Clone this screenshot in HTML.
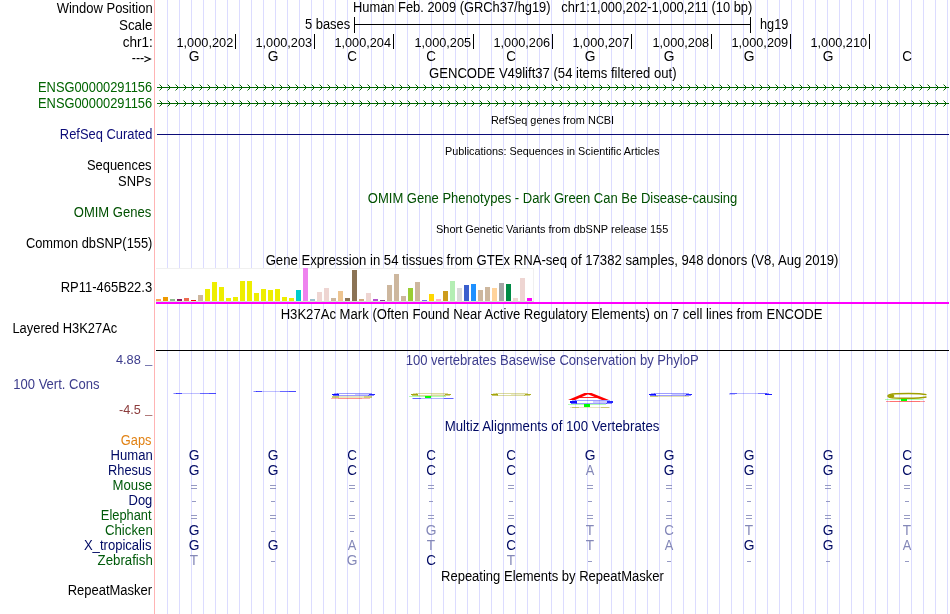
<!DOCTYPE html>
<html><head><meta charset="utf-8"><title>UCSC Genome Browser</title>
<style>
html,body{margin:0;padding:0;background:#fff;}
body{width:950px;height:614px;overflow:hidden;}
svg{display:block;font-family:"Liberation Sans",sans-serif;will-change:transform;}
text{white-space:pre;}
</style></head><body>
<svg width="950" height="614" viewBox="0 0 950 614">
<rect width="950" height="614" fill="#fff"/>
<path d="M167.5 0V614M179.5 0V614M191.5 0V614M203.5 0V614M215.5 0V614M227.5 0V614M239.5 0V614M251.5 0V614M263.5 0V614M275.5 0V614M287.5 0V614M299.5 0V614M311.5 0V614M323.5 0V614M335.5 0V614M347.5 0V614M359.5 0V614M371.5 0V614M383.5 0V614M395.5 0V614M407.5 0V614M419.5 0V614M431.5 0V614M443.5 0V614M455.5 0V614M467.5 0V614M479.5 0V614M491.5 0V614M503.5 0V614M515.5 0V614M527.5 0V614M539.5 0V614M551.5 0V614M563.5 0V614M575.5 0V614M587.5 0V614M599.5 0V614M611.5 0V614M623.5 0V614M635.5 0V614M647.5 0V614M659.5 0V614M671.5 0V614M683.5 0V614M695.5 0V614M707.5 0V614M719.5 0V614M731.5 0V614M743.5 0V614M755.5 0V614M767.5 0V614M779.5 0V614M791.5 0V614M803.5 0V614M815.5 0V614M827.5 0V614M839.5 0V614M851.5 0V614M863.5 0V614M875.5 0V614M887.5 0V614M899.5 0V614M911.5 0V614M923.5 0V614M935.5 0V614M947.5 0V614" stroke="#dcdcff" stroke-width="1" fill="none"/>
<path d="M154.5 0V614" stroke="#ffb4b4" stroke-width="1" fill="none"/>
<path d="M354.5 17V33M750.5 17V33M354 24.5H751" stroke="#000" stroke-width="1" fill="none"/>
<path d="M144.4 56.4L150.4 59.1L144.4 61.8" fill="none" stroke="#000" stroke-width="1.15"/>
<rect x="235" y="34" width="1" height="15" fill="#000"/>
<rect x="314" y="34" width="1" height="15" fill="#000"/>
<rect x="393" y="34" width="1" height="15" fill="#000"/>
<rect x="473" y="34" width="1" height="15" fill="#000"/>
<rect x="552" y="34" width="1" height="15" fill="#000"/>
<rect x="631" y="34" width="1" height="15" fill="#000"/>
<rect x="711" y="34" width="1" height="15" fill="#000"/>
<rect x="790" y="34" width="1" height="15" fill="#000"/>
<rect x="869" y="34" width="1" height="15" fill="#000"/>
<path d="M157 87.5H949" stroke="#006400" stroke-width="1" fill="none"/>
<path d="M161 86h1v1h-1zM161 88h1v1h-1zM160 85h1v1h-1zM160 89h1v1h-1zM169 86h1v1h-1zM169 88h1v1h-1zM168 85h1v1h-1zM168 89h1v1h-1zM177 86h1v1h-1zM177 88h1v1h-1zM176 85h1v1h-1zM176 89h1v1h-1zM185 86h1v1h-1zM185 88h1v1h-1zM184 85h1v1h-1zM184 89h1v1h-1zM193 86h1v1h-1zM193 88h1v1h-1zM192 85h1v1h-1zM192 89h1v1h-1zM201 86h1v1h-1zM201 88h1v1h-1zM200 85h1v1h-1zM200 89h1v1h-1zM209 86h1v1h-1zM209 88h1v1h-1zM208 85h1v1h-1zM208 89h1v1h-1zM217 86h1v1h-1zM217 88h1v1h-1zM216 85h1v1h-1zM216 89h1v1h-1zM225 86h1v1h-1zM225 88h1v1h-1zM224 85h1v1h-1zM224 89h1v1h-1zM233 86h1v1h-1zM233 88h1v1h-1zM232 85h1v1h-1zM232 89h1v1h-1zM241 86h1v1h-1zM241 88h1v1h-1zM240 85h1v1h-1zM240 89h1v1h-1zM249 86h1v1h-1zM249 88h1v1h-1zM248 85h1v1h-1zM248 89h1v1h-1zM257 86h1v1h-1zM257 88h1v1h-1zM256 85h1v1h-1zM256 89h1v1h-1zM265 86h1v1h-1zM265 88h1v1h-1zM264 85h1v1h-1zM264 89h1v1h-1zM273 86h1v1h-1zM273 88h1v1h-1zM272 85h1v1h-1zM272 89h1v1h-1zM281 86h1v1h-1zM281 88h1v1h-1zM280 85h1v1h-1zM280 89h1v1h-1zM289 86h1v1h-1zM289 88h1v1h-1zM288 85h1v1h-1zM288 89h1v1h-1zM297 86h1v1h-1zM297 88h1v1h-1zM296 85h1v1h-1zM296 89h1v1h-1zM305 86h1v1h-1zM305 88h1v1h-1zM304 85h1v1h-1zM304 89h1v1h-1zM313 86h1v1h-1zM313 88h1v1h-1zM312 85h1v1h-1zM312 89h1v1h-1zM321 86h1v1h-1zM321 88h1v1h-1zM320 85h1v1h-1zM320 89h1v1h-1zM329 86h1v1h-1zM329 88h1v1h-1zM328 85h1v1h-1zM328 89h1v1h-1zM337 86h1v1h-1zM337 88h1v1h-1zM336 85h1v1h-1zM336 89h1v1h-1zM345 86h1v1h-1zM345 88h1v1h-1zM344 85h1v1h-1zM344 89h1v1h-1zM353 86h1v1h-1zM353 88h1v1h-1zM352 85h1v1h-1zM352 89h1v1h-1zM361 86h1v1h-1zM361 88h1v1h-1zM360 85h1v1h-1zM360 89h1v1h-1zM369 86h1v1h-1zM369 88h1v1h-1zM368 85h1v1h-1zM368 89h1v1h-1zM377 86h1v1h-1zM377 88h1v1h-1zM376 85h1v1h-1zM376 89h1v1h-1zM385 86h1v1h-1zM385 88h1v1h-1zM384 85h1v1h-1zM384 89h1v1h-1zM393 86h1v1h-1zM393 88h1v1h-1zM392 85h1v1h-1zM392 89h1v1h-1zM401 86h1v1h-1zM401 88h1v1h-1zM400 85h1v1h-1zM400 89h1v1h-1zM409 86h1v1h-1zM409 88h1v1h-1zM408 85h1v1h-1zM408 89h1v1h-1zM417 86h1v1h-1zM417 88h1v1h-1zM416 85h1v1h-1zM416 89h1v1h-1zM425 86h1v1h-1zM425 88h1v1h-1zM424 85h1v1h-1zM424 89h1v1h-1zM433 86h1v1h-1zM433 88h1v1h-1zM432 85h1v1h-1zM432 89h1v1h-1zM441 86h1v1h-1zM441 88h1v1h-1zM440 85h1v1h-1zM440 89h1v1h-1zM449 86h1v1h-1zM449 88h1v1h-1zM448 85h1v1h-1zM448 89h1v1h-1zM457 86h1v1h-1zM457 88h1v1h-1zM456 85h1v1h-1zM456 89h1v1h-1zM465 86h1v1h-1zM465 88h1v1h-1zM464 85h1v1h-1zM464 89h1v1h-1zM473 86h1v1h-1zM473 88h1v1h-1zM472 85h1v1h-1zM472 89h1v1h-1zM481 86h1v1h-1zM481 88h1v1h-1zM480 85h1v1h-1zM480 89h1v1h-1zM489 86h1v1h-1zM489 88h1v1h-1zM488 85h1v1h-1zM488 89h1v1h-1zM497 86h1v1h-1zM497 88h1v1h-1zM496 85h1v1h-1zM496 89h1v1h-1zM505 86h1v1h-1zM505 88h1v1h-1zM504 85h1v1h-1zM504 89h1v1h-1zM513 86h1v1h-1zM513 88h1v1h-1zM512 85h1v1h-1zM512 89h1v1h-1zM521 86h1v1h-1zM521 88h1v1h-1zM520 85h1v1h-1zM520 89h1v1h-1zM529 86h1v1h-1zM529 88h1v1h-1zM528 85h1v1h-1zM528 89h1v1h-1zM537 86h1v1h-1zM537 88h1v1h-1zM536 85h1v1h-1zM536 89h1v1h-1zM545 86h1v1h-1zM545 88h1v1h-1zM544 85h1v1h-1zM544 89h1v1h-1zM553 86h1v1h-1zM553 88h1v1h-1zM552 85h1v1h-1zM552 89h1v1h-1zM561 86h1v1h-1zM561 88h1v1h-1zM560 85h1v1h-1zM560 89h1v1h-1zM569 86h1v1h-1zM569 88h1v1h-1zM568 85h1v1h-1zM568 89h1v1h-1zM577 86h1v1h-1zM577 88h1v1h-1zM576 85h1v1h-1zM576 89h1v1h-1zM585 86h1v1h-1zM585 88h1v1h-1zM584 85h1v1h-1zM584 89h1v1h-1zM593 86h1v1h-1zM593 88h1v1h-1zM592 85h1v1h-1zM592 89h1v1h-1zM601 86h1v1h-1zM601 88h1v1h-1zM600 85h1v1h-1zM600 89h1v1h-1zM609 86h1v1h-1zM609 88h1v1h-1zM608 85h1v1h-1zM608 89h1v1h-1zM617 86h1v1h-1zM617 88h1v1h-1zM616 85h1v1h-1zM616 89h1v1h-1zM625 86h1v1h-1zM625 88h1v1h-1zM624 85h1v1h-1zM624 89h1v1h-1zM633 86h1v1h-1zM633 88h1v1h-1zM632 85h1v1h-1zM632 89h1v1h-1zM641 86h1v1h-1zM641 88h1v1h-1zM640 85h1v1h-1zM640 89h1v1h-1zM649 86h1v1h-1zM649 88h1v1h-1zM648 85h1v1h-1zM648 89h1v1h-1zM657 86h1v1h-1zM657 88h1v1h-1zM656 85h1v1h-1zM656 89h1v1h-1zM665 86h1v1h-1zM665 88h1v1h-1zM664 85h1v1h-1zM664 89h1v1h-1zM673 86h1v1h-1zM673 88h1v1h-1zM672 85h1v1h-1zM672 89h1v1h-1zM681 86h1v1h-1zM681 88h1v1h-1zM680 85h1v1h-1zM680 89h1v1h-1zM689 86h1v1h-1zM689 88h1v1h-1zM688 85h1v1h-1zM688 89h1v1h-1zM697 86h1v1h-1zM697 88h1v1h-1zM696 85h1v1h-1zM696 89h1v1h-1zM705 86h1v1h-1zM705 88h1v1h-1zM704 85h1v1h-1zM704 89h1v1h-1zM713 86h1v1h-1zM713 88h1v1h-1zM712 85h1v1h-1zM712 89h1v1h-1zM721 86h1v1h-1zM721 88h1v1h-1zM720 85h1v1h-1zM720 89h1v1h-1zM729 86h1v1h-1zM729 88h1v1h-1zM728 85h1v1h-1zM728 89h1v1h-1zM737 86h1v1h-1zM737 88h1v1h-1zM736 85h1v1h-1zM736 89h1v1h-1zM745 86h1v1h-1zM745 88h1v1h-1zM744 85h1v1h-1zM744 89h1v1h-1zM753 86h1v1h-1zM753 88h1v1h-1zM752 85h1v1h-1zM752 89h1v1h-1zM761 86h1v1h-1zM761 88h1v1h-1zM760 85h1v1h-1zM760 89h1v1h-1zM769 86h1v1h-1zM769 88h1v1h-1zM768 85h1v1h-1zM768 89h1v1h-1zM777 86h1v1h-1zM777 88h1v1h-1zM776 85h1v1h-1zM776 89h1v1h-1zM785 86h1v1h-1zM785 88h1v1h-1zM784 85h1v1h-1zM784 89h1v1h-1zM793 86h1v1h-1zM793 88h1v1h-1zM792 85h1v1h-1zM792 89h1v1h-1zM801 86h1v1h-1zM801 88h1v1h-1zM800 85h1v1h-1zM800 89h1v1h-1zM809 86h1v1h-1zM809 88h1v1h-1zM808 85h1v1h-1zM808 89h1v1h-1zM817 86h1v1h-1zM817 88h1v1h-1zM816 85h1v1h-1zM816 89h1v1h-1zM825 86h1v1h-1zM825 88h1v1h-1zM824 85h1v1h-1zM824 89h1v1h-1zM833 86h1v1h-1zM833 88h1v1h-1zM832 85h1v1h-1zM832 89h1v1h-1zM841 86h1v1h-1zM841 88h1v1h-1zM840 85h1v1h-1zM840 89h1v1h-1zM849 86h1v1h-1zM849 88h1v1h-1zM848 85h1v1h-1zM848 89h1v1h-1zM857 86h1v1h-1zM857 88h1v1h-1zM856 85h1v1h-1zM856 89h1v1h-1zM865 86h1v1h-1zM865 88h1v1h-1zM864 85h1v1h-1zM864 89h1v1h-1zM873 86h1v1h-1zM873 88h1v1h-1zM872 85h1v1h-1zM872 89h1v1h-1zM881 86h1v1h-1zM881 88h1v1h-1zM880 85h1v1h-1zM880 89h1v1h-1zM889 86h1v1h-1zM889 88h1v1h-1zM888 85h1v1h-1zM888 89h1v1h-1zM897 86h1v1h-1zM897 88h1v1h-1zM896 85h1v1h-1zM896 89h1v1h-1zM905 86h1v1h-1zM905 88h1v1h-1zM904 85h1v1h-1zM904 89h1v1h-1zM913 86h1v1h-1zM913 88h1v1h-1zM912 85h1v1h-1zM912 89h1v1h-1zM921 86h1v1h-1zM921 88h1v1h-1zM920 85h1v1h-1zM920 89h1v1h-1zM929 86h1v1h-1zM929 88h1v1h-1zM928 85h1v1h-1zM928 89h1v1h-1zM937 86h1v1h-1zM937 88h1v1h-1zM936 85h1v1h-1zM936 89h1v1h-1zM945 86h1v1h-1zM945 88h1v1h-1zM944 85h1v1h-1zM944 89h1v1h-1z" fill="#006400"/>
<path d="M159 84h1v1h-1zM159 90h1v1h-1zM167 84h1v1h-1zM167 90h1v1h-1zM175 84h1v1h-1zM175 90h1v1h-1zM183 84h1v1h-1zM183 90h1v1h-1zM191 84h1v1h-1zM191 90h1v1h-1zM199 84h1v1h-1zM199 90h1v1h-1zM207 84h1v1h-1zM207 90h1v1h-1zM215 84h1v1h-1zM215 90h1v1h-1zM223 84h1v1h-1zM223 90h1v1h-1zM231 84h1v1h-1zM231 90h1v1h-1zM239 84h1v1h-1zM239 90h1v1h-1zM247 84h1v1h-1zM247 90h1v1h-1zM255 84h1v1h-1zM255 90h1v1h-1zM263 84h1v1h-1zM263 90h1v1h-1zM271 84h1v1h-1zM271 90h1v1h-1zM279 84h1v1h-1zM279 90h1v1h-1zM287 84h1v1h-1zM287 90h1v1h-1zM295 84h1v1h-1zM295 90h1v1h-1zM303 84h1v1h-1zM303 90h1v1h-1zM311 84h1v1h-1zM311 90h1v1h-1zM319 84h1v1h-1zM319 90h1v1h-1zM327 84h1v1h-1zM327 90h1v1h-1zM335 84h1v1h-1zM335 90h1v1h-1zM343 84h1v1h-1zM343 90h1v1h-1zM351 84h1v1h-1zM351 90h1v1h-1zM359 84h1v1h-1zM359 90h1v1h-1zM367 84h1v1h-1zM367 90h1v1h-1zM375 84h1v1h-1zM375 90h1v1h-1zM383 84h1v1h-1zM383 90h1v1h-1zM391 84h1v1h-1zM391 90h1v1h-1zM399 84h1v1h-1zM399 90h1v1h-1zM407 84h1v1h-1zM407 90h1v1h-1zM415 84h1v1h-1zM415 90h1v1h-1zM423 84h1v1h-1zM423 90h1v1h-1zM431 84h1v1h-1zM431 90h1v1h-1zM439 84h1v1h-1zM439 90h1v1h-1zM447 84h1v1h-1zM447 90h1v1h-1zM455 84h1v1h-1zM455 90h1v1h-1zM463 84h1v1h-1zM463 90h1v1h-1zM471 84h1v1h-1zM471 90h1v1h-1zM479 84h1v1h-1zM479 90h1v1h-1zM487 84h1v1h-1zM487 90h1v1h-1zM495 84h1v1h-1zM495 90h1v1h-1zM503 84h1v1h-1zM503 90h1v1h-1zM511 84h1v1h-1zM511 90h1v1h-1zM519 84h1v1h-1zM519 90h1v1h-1zM527 84h1v1h-1zM527 90h1v1h-1zM535 84h1v1h-1zM535 90h1v1h-1zM543 84h1v1h-1zM543 90h1v1h-1zM551 84h1v1h-1zM551 90h1v1h-1zM559 84h1v1h-1zM559 90h1v1h-1zM567 84h1v1h-1zM567 90h1v1h-1zM575 84h1v1h-1zM575 90h1v1h-1zM583 84h1v1h-1zM583 90h1v1h-1zM591 84h1v1h-1zM591 90h1v1h-1zM599 84h1v1h-1zM599 90h1v1h-1zM607 84h1v1h-1zM607 90h1v1h-1zM615 84h1v1h-1zM615 90h1v1h-1zM623 84h1v1h-1zM623 90h1v1h-1zM631 84h1v1h-1zM631 90h1v1h-1zM639 84h1v1h-1zM639 90h1v1h-1zM647 84h1v1h-1zM647 90h1v1h-1zM655 84h1v1h-1zM655 90h1v1h-1zM663 84h1v1h-1zM663 90h1v1h-1zM671 84h1v1h-1zM671 90h1v1h-1zM679 84h1v1h-1zM679 90h1v1h-1zM687 84h1v1h-1zM687 90h1v1h-1zM695 84h1v1h-1zM695 90h1v1h-1zM703 84h1v1h-1zM703 90h1v1h-1zM711 84h1v1h-1zM711 90h1v1h-1zM719 84h1v1h-1zM719 90h1v1h-1zM727 84h1v1h-1zM727 90h1v1h-1zM735 84h1v1h-1zM735 90h1v1h-1zM743 84h1v1h-1zM743 90h1v1h-1zM751 84h1v1h-1zM751 90h1v1h-1zM759 84h1v1h-1zM759 90h1v1h-1zM767 84h1v1h-1zM767 90h1v1h-1zM775 84h1v1h-1zM775 90h1v1h-1zM783 84h1v1h-1zM783 90h1v1h-1zM791 84h1v1h-1zM791 90h1v1h-1zM799 84h1v1h-1zM799 90h1v1h-1zM807 84h1v1h-1zM807 90h1v1h-1zM815 84h1v1h-1zM815 90h1v1h-1zM823 84h1v1h-1zM823 90h1v1h-1zM831 84h1v1h-1zM831 90h1v1h-1zM839 84h1v1h-1zM839 90h1v1h-1zM847 84h1v1h-1zM847 90h1v1h-1zM855 84h1v1h-1zM855 90h1v1h-1zM863 84h1v1h-1zM863 90h1v1h-1zM871 84h1v1h-1zM871 90h1v1h-1zM879 84h1v1h-1zM879 90h1v1h-1zM887 84h1v1h-1zM887 90h1v1h-1zM895 84h1v1h-1zM895 90h1v1h-1zM903 84h1v1h-1zM903 90h1v1h-1zM911 84h1v1h-1zM911 90h1v1h-1zM919 84h1v1h-1zM919 90h1v1h-1zM927 84h1v1h-1zM927 90h1v1h-1zM935 84h1v1h-1zM935 90h1v1h-1zM943 84h1v1h-1zM943 90h1v1h-1z" fill="#006400" fill-opacity="0.45"/>
<path d="M157 103.5H949" stroke="#006400" stroke-width="1" fill="none"/>
<path d="M161 102h1v1h-1zM161 104h1v1h-1zM160 101h1v1h-1zM160 105h1v1h-1zM169 102h1v1h-1zM169 104h1v1h-1zM168 101h1v1h-1zM168 105h1v1h-1zM177 102h1v1h-1zM177 104h1v1h-1zM176 101h1v1h-1zM176 105h1v1h-1zM185 102h1v1h-1zM185 104h1v1h-1zM184 101h1v1h-1zM184 105h1v1h-1zM193 102h1v1h-1zM193 104h1v1h-1zM192 101h1v1h-1zM192 105h1v1h-1zM201 102h1v1h-1zM201 104h1v1h-1zM200 101h1v1h-1zM200 105h1v1h-1zM209 102h1v1h-1zM209 104h1v1h-1zM208 101h1v1h-1zM208 105h1v1h-1zM217 102h1v1h-1zM217 104h1v1h-1zM216 101h1v1h-1zM216 105h1v1h-1zM225 102h1v1h-1zM225 104h1v1h-1zM224 101h1v1h-1zM224 105h1v1h-1zM233 102h1v1h-1zM233 104h1v1h-1zM232 101h1v1h-1zM232 105h1v1h-1zM241 102h1v1h-1zM241 104h1v1h-1zM240 101h1v1h-1zM240 105h1v1h-1zM249 102h1v1h-1zM249 104h1v1h-1zM248 101h1v1h-1zM248 105h1v1h-1zM257 102h1v1h-1zM257 104h1v1h-1zM256 101h1v1h-1zM256 105h1v1h-1zM265 102h1v1h-1zM265 104h1v1h-1zM264 101h1v1h-1zM264 105h1v1h-1zM273 102h1v1h-1zM273 104h1v1h-1zM272 101h1v1h-1zM272 105h1v1h-1zM281 102h1v1h-1zM281 104h1v1h-1zM280 101h1v1h-1zM280 105h1v1h-1zM289 102h1v1h-1zM289 104h1v1h-1zM288 101h1v1h-1zM288 105h1v1h-1zM297 102h1v1h-1zM297 104h1v1h-1zM296 101h1v1h-1zM296 105h1v1h-1zM305 102h1v1h-1zM305 104h1v1h-1zM304 101h1v1h-1zM304 105h1v1h-1zM313 102h1v1h-1zM313 104h1v1h-1zM312 101h1v1h-1zM312 105h1v1h-1zM321 102h1v1h-1zM321 104h1v1h-1zM320 101h1v1h-1zM320 105h1v1h-1zM329 102h1v1h-1zM329 104h1v1h-1zM328 101h1v1h-1zM328 105h1v1h-1zM337 102h1v1h-1zM337 104h1v1h-1zM336 101h1v1h-1zM336 105h1v1h-1zM345 102h1v1h-1zM345 104h1v1h-1zM344 101h1v1h-1zM344 105h1v1h-1zM353 102h1v1h-1zM353 104h1v1h-1zM352 101h1v1h-1zM352 105h1v1h-1zM361 102h1v1h-1zM361 104h1v1h-1zM360 101h1v1h-1zM360 105h1v1h-1zM369 102h1v1h-1zM369 104h1v1h-1zM368 101h1v1h-1zM368 105h1v1h-1zM377 102h1v1h-1zM377 104h1v1h-1zM376 101h1v1h-1zM376 105h1v1h-1zM385 102h1v1h-1zM385 104h1v1h-1zM384 101h1v1h-1zM384 105h1v1h-1zM393 102h1v1h-1zM393 104h1v1h-1zM392 101h1v1h-1zM392 105h1v1h-1zM401 102h1v1h-1zM401 104h1v1h-1zM400 101h1v1h-1zM400 105h1v1h-1zM409 102h1v1h-1zM409 104h1v1h-1zM408 101h1v1h-1zM408 105h1v1h-1zM417 102h1v1h-1zM417 104h1v1h-1zM416 101h1v1h-1zM416 105h1v1h-1zM425 102h1v1h-1zM425 104h1v1h-1zM424 101h1v1h-1zM424 105h1v1h-1zM433 102h1v1h-1zM433 104h1v1h-1zM432 101h1v1h-1zM432 105h1v1h-1zM441 102h1v1h-1zM441 104h1v1h-1zM440 101h1v1h-1zM440 105h1v1h-1zM449 102h1v1h-1zM449 104h1v1h-1zM448 101h1v1h-1zM448 105h1v1h-1zM457 102h1v1h-1zM457 104h1v1h-1zM456 101h1v1h-1zM456 105h1v1h-1zM465 102h1v1h-1zM465 104h1v1h-1zM464 101h1v1h-1zM464 105h1v1h-1zM473 102h1v1h-1zM473 104h1v1h-1zM472 101h1v1h-1zM472 105h1v1h-1zM481 102h1v1h-1zM481 104h1v1h-1zM480 101h1v1h-1zM480 105h1v1h-1zM489 102h1v1h-1zM489 104h1v1h-1zM488 101h1v1h-1zM488 105h1v1h-1zM497 102h1v1h-1zM497 104h1v1h-1zM496 101h1v1h-1zM496 105h1v1h-1zM505 102h1v1h-1zM505 104h1v1h-1zM504 101h1v1h-1zM504 105h1v1h-1zM513 102h1v1h-1zM513 104h1v1h-1zM512 101h1v1h-1zM512 105h1v1h-1zM521 102h1v1h-1zM521 104h1v1h-1zM520 101h1v1h-1zM520 105h1v1h-1zM529 102h1v1h-1zM529 104h1v1h-1zM528 101h1v1h-1zM528 105h1v1h-1zM537 102h1v1h-1zM537 104h1v1h-1zM536 101h1v1h-1zM536 105h1v1h-1zM545 102h1v1h-1zM545 104h1v1h-1zM544 101h1v1h-1zM544 105h1v1h-1zM553 102h1v1h-1zM553 104h1v1h-1zM552 101h1v1h-1zM552 105h1v1h-1zM561 102h1v1h-1zM561 104h1v1h-1zM560 101h1v1h-1zM560 105h1v1h-1zM569 102h1v1h-1zM569 104h1v1h-1zM568 101h1v1h-1zM568 105h1v1h-1zM577 102h1v1h-1zM577 104h1v1h-1zM576 101h1v1h-1zM576 105h1v1h-1zM585 102h1v1h-1zM585 104h1v1h-1zM584 101h1v1h-1zM584 105h1v1h-1zM593 102h1v1h-1zM593 104h1v1h-1zM592 101h1v1h-1zM592 105h1v1h-1zM601 102h1v1h-1zM601 104h1v1h-1zM600 101h1v1h-1zM600 105h1v1h-1zM609 102h1v1h-1zM609 104h1v1h-1zM608 101h1v1h-1zM608 105h1v1h-1zM617 102h1v1h-1zM617 104h1v1h-1zM616 101h1v1h-1zM616 105h1v1h-1zM625 102h1v1h-1zM625 104h1v1h-1zM624 101h1v1h-1zM624 105h1v1h-1zM633 102h1v1h-1zM633 104h1v1h-1zM632 101h1v1h-1zM632 105h1v1h-1zM641 102h1v1h-1zM641 104h1v1h-1zM640 101h1v1h-1zM640 105h1v1h-1zM649 102h1v1h-1zM649 104h1v1h-1zM648 101h1v1h-1zM648 105h1v1h-1zM657 102h1v1h-1zM657 104h1v1h-1zM656 101h1v1h-1zM656 105h1v1h-1zM665 102h1v1h-1zM665 104h1v1h-1zM664 101h1v1h-1zM664 105h1v1h-1zM673 102h1v1h-1zM673 104h1v1h-1zM672 101h1v1h-1zM672 105h1v1h-1zM681 102h1v1h-1zM681 104h1v1h-1zM680 101h1v1h-1zM680 105h1v1h-1zM689 102h1v1h-1zM689 104h1v1h-1zM688 101h1v1h-1zM688 105h1v1h-1zM697 102h1v1h-1zM697 104h1v1h-1zM696 101h1v1h-1zM696 105h1v1h-1zM705 102h1v1h-1zM705 104h1v1h-1zM704 101h1v1h-1zM704 105h1v1h-1zM713 102h1v1h-1zM713 104h1v1h-1zM712 101h1v1h-1zM712 105h1v1h-1zM721 102h1v1h-1zM721 104h1v1h-1zM720 101h1v1h-1zM720 105h1v1h-1zM729 102h1v1h-1zM729 104h1v1h-1zM728 101h1v1h-1zM728 105h1v1h-1zM737 102h1v1h-1zM737 104h1v1h-1zM736 101h1v1h-1zM736 105h1v1h-1zM745 102h1v1h-1zM745 104h1v1h-1zM744 101h1v1h-1zM744 105h1v1h-1zM753 102h1v1h-1zM753 104h1v1h-1zM752 101h1v1h-1zM752 105h1v1h-1zM761 102h1v1h-1zM761 104h1v1h-1zM760 101h1v1h-1zM760 105h1v1h-1zM769 102h1v1h-1zM769 104h1v1h-1zM768 101h1v1h-1zM768 105h1v1h-1zM777 102h1v1h-1zM777 104h1v1h-1zM776 101h1v1h-1zM776 105h1v1h-1zM785 102h1v1h-1zM785 104h1v1h-1zM784 101h1v1h-1zM784 105h1v1h-1zM793 102h1v1h-1zM793 104h1v1h-1zM792 101h1v1h-1zM792 105h1v1h-1zM801 102h1v1h-1zM801 104h1v1h-1zM800 101h1v1h-1zM800 105h1v1h-1zM809 102h1v1h-1zM809 104h1v1h-1zM808 101h1v1h-1zM808 105h1v1h-1zM817 102h1v1h-1zM817 104h1v1h-1zM816 101h1v1h-1zM816 105h1v1h-1zM825 102h1v1h-1zM825 104h1v1h-1zM824 101h1v1h-1zM824 105h1v1h-1zM833 102h1v1h-1zM833 104h1v1h-1zM832 101h1v1h-1zM832 105h1v1h-1zM841 102h1v1h-1zM841 104h1v1h-1zM840 101h1v1h-1zM840 105h1v1h-1zM849 102h1v1h-1zM849 104h1v1h-1zM848 101h1v1h-1zM848 105h1v1h-1zM857 102h1v1h-1zM857 104h1v1h-1zM856 101h1v1h-1zM856 105h1v1h-1zM865 102h1v1h-1zM865 104h1v1h-1zM864 101h1v1h-1zM864 105h1v1h-1zM873 102h1v1h-1zM873 104h1v1h-1zM872 101h1v1h-1zM872 105h1v1h-1zM881 102h1v1h-1zM881 104h1v1h-1zM880 101h1v1h-1zM880 105h1v1h-1zM889 102h1v1h-1zM889 104h1v1h-1zM888 101h1v1h-1zM888 105h1v1h-1zM897 102h1v1h-1zM897 104h1v1h-1zM896 101h1v1h-1zM896 105h1v1h-1zM905 102h1v1h-1zM905 104h1v1h-1zM904 101h1v1h-1zM904 105h1v1h-1zM913 102h1v1h-1zM913 104h1v1h-1zM912 101h1v1h-1zM912 105h1v1h-1zM921 102h1v1h-1zM921 104h1v1h-1zM920 101h1v1h-1zM920 105h1v1h-1zM929 102h1v1h-1zM929 104h1v1h-1zM928 101h1v1h-1zM928 105h1v1h-1zM937 102h1v1h-1zM937 104h1v1h-1zM936 101h1v1h-1zM936 105h1v1h-1zM945 102h1v1h-1zM945 104h1v1h-1zM944 101h1v1h-1zM944 105h1v1h-1z" fill="#006400"/>
<path d="M159 100h1v1h-1zM159 106h1v1h-1zM167 100h1v1h-1zM167 106h1v1h-1zM175 100h1v1h-1zM175 106h1v1h-1zM183 100h1v1h-1zM183 106h1v1h-1zM191 100h1v1h-1zM191 106h1v1h-1zM199 100h1v1h-1zM199 106h1v1h-1zM207 100h1v1h-1zM207 106h1v1h-1zM215 100h1v1h-1zM215 106h1v1h-1zM223 100h1v1h-1zM223 106h1v1h-1zM231 100h1v1h-1zM231 106h1v1h-1zM239 100h1v1h-1zM239 106h1v1h-1zM247 100h1v1h-1zM247 106h1v1h-1zM255 100h1v1h-1zM255 106h1v1h-1zM263 100h1v1h-1zM263 106h1v1h-1zM271 100h1v1h-1zM271 106h1v1h-1zM279 100h1v1h-1zM279 106h1v1h-1zM287 100h1v1h-1zM287 106h1v1h-1zM295 100h1v1h-1zM295 106h1v1h-1zM303 100h1v1h-1zM303 106h1v1h-1zM311 100h1v1h-1zM311 106h1v1h-1zM319 100h1v1h-1zM319 106h1v1h-1zM327 100h1v1h-1zM327 106h1v1h-1zM335 100h1v1h-1zM335 106h1v1h-1zM343 100h1v1h-1zM343 106h1v1h-1zM351 100h1v1h-1zM351 106h1v1h-1zM359 100h1v1h-1zM359 106h1v1h-1zM367 100h1v1h-1zM367 106h1v1h-1zM375 100h1v1h-1zM375 106h1v1h-1zM383 100h1v1h-1zM383 106h1v1h-1zM391 100h1v1h-1zM391 106h1v1h-1zM399 100h1v1h-1zM399 106h1v1h-1zM407 100h1v1h-1zM407 106h1v1h-1zM415 100h1v1h-1zM415 106h1v1h-1zM423 100h1v1h-1zM423 106h1v1h-1zM431 100h1v1h-1zM431 106h1v1h-1zM439 100h1v1h-1zM439 106h1v1h-1zM447 100h1v1h-1zM447 106h1v1h-1zM455 100h1v1h-1zM455 106h1v1h-1zM463 100h1v1h-1zM463 106h1v1h-1zM471 100h1v1h-1zM471 106h1v1h-1zM479 100h1v1h-1zM479 106h1v1h-1zM487 100h1v1h-1zM487 106h1v1h-1zM495 100h1v1h-1zM495 106h1v1h-1zM503 100h1v1h-1zM503 106h1v1h-1zM511 100h1v1h-1zM511 106h1v1h-1zM519 100h1v1h-1zM519 106h1v1h-1zM527 100h1v1h-1zM527 106h1v1h-1zM535 100h1v1h-1zM535 106h1v1h-1zM543 100h1v1h-1zM543 106h1v1h-1zM551 100h1v1h-1zM551 106h1v1h-1zM559 100h1v1h-1zM559 106h1v1h-1zM567 100h1v1h-1zM567 106h1v1h-1zM575 100h1v1h-1zM575 106h1v1h-1zM583 100h1v1h-1zM583 106h1v1h-1zM591 100h1v1h-1zM591 106h1v1h-1zM599 100h1v1h-1zM599 106h1v1h-1zM607 100h1v1h-1zM607 106h1v1h-1zM615 100h1v1h-1zM615 106h1v1h-1zM623 100h1v1h-1zM623 106h1v1h-1zM631 100h1v1h-1zM631 106h1v1h-1zM639 100h1v1h-1zM639 106h1v1h-1zM647 100h1v1h-1zM647 106h1v1h-1zM655 100h1v1h-1zM655 106h1v1h-1zM663 100h1v1h-1zM663 106h1v1h-1zM671 100h1v1h-1zM671 106h1v1h-1zM679 100h1v1h-1zM679 106h1v1h-1zM687 100h1v1h-1zM687 106h1v1h-1zM695 100h1v1h-1zM695 106h1v1h-1zM703 100h1v1h-1zM703 106h1v1h-1zM711 100h1v1h-1zM711 106h1v1h-1zM719 100h1v1h-1zM719 106h1v1h-1zM727 100h1v1h-1zM727 106h1v1h-1zM735 100h1v1h-1zM735 106h1v1h-1zM743 100h1v1h-1zM743 106h1v1h-1zM751 100h1v1h-1zM751 106h1v1h-1zM759 100h1v1h-1zM759 106h1v1h-1zM767 100h1v1h-1zM767 106h1v1h-1zM775 100h1v1h-1zM775 106h1v1h-1zM783 100h1v1h-1zM783 106h1v1h-1zM791 100h1v1h-1zM791 106h1v1h-1zM799 100h1v1h-1zM799 106h1v1h-1zM807 100h1v1h-1zM807 106h1v1h-1zM815 100h1v1h-1zM815 106h1v1h-1zM823 100h1v1h-1zM823 106h1v1h-1zM831 100h1v1h-1zM831 106h1v1h-1zM839 100h1v1h-1zM839 106h1v1h-1zM847 100h1v1h-1zM847 106h1v1h-1zM855 100h1v1h-1zM855 106h1v1h-1zM863 100h1v1h-1zM863 106h1v1h-1zM871 100h1v1h-1zM871 106h1v1h-1zM879 100h1v1h-1zM879 106h1v1h-1zM887 100h1v1h-1zM887 106h1v1h-1zM895 100h1v1h-1zM895 106h1v1h-1zM903 100h1v1h-1zM903 106h1v1h-1zM911 100h1v1h-1zM911 106h1v1h-1zM919 100h1v1h-1zM919 106h1v1h-1zM927 100h1v1h-1zM927 106h1v1h-1zM935 100h1v1h-1zM935 106h1v1h-1zM943 100h1v1h-1zM943 106h1v1h-1z" fill="#006400" fill-opacity="0.45"/>
<rect x="157" y="134" width="792" height="1" fill="#0c0c78"/>
<rect x="156" y="268" width="378" height="34" fill="#fff"/>
<path d="M156 268.5H533.5V301" stroke="#f0f0f0" stroke-width="1" fill="none"/>
<rect x="156" y="301" width="378" height="1" fill="#d4e8d0"/>
<rect x="156" y="299" width="5" height="2" fill="#FFA54F"/>
<rect x="163" y="297" width="5" height="4" fill="#EE9A00"/>
<rect x="170" y="299" width="5" height="2" fill="#8FBC8F"/>
<rect x="177" y="299" width="5" height="2" fill="#8B1C62"/>
<rect x="184" y="298" width="5" height="3" fill="#EE6A50"/>
<rect x="191" y="300" width="5" height="1" fill="#FF0000"/>
<rect x="198" y="295" width="5" height="6" fill="#CDB79E"/>
<rect x="205" y="289" width="5" height="12" fill="#EEEE00"/>
<rect x="212" y="282" width="5" height="19" fill="#EEEE00"/>
<rect x="219" y="287" width="5" height="14" fill="#EEEE00"/>
<rect x="226" y="298" width="5" height="3" fill="#EEEE00"/>
<rect x="233" y="297" width="5" height="4" fill="#EEEE00"/>
<rect x="240" y="281" width="5" height="20" fill="#EEEE00"/>
<rect x="247" y="281" width="5" height="20" fill="#EEEE00"/>
<rect x="254" y="293" width="5" height="8" fill="#EEEE00"/>
<rect x="261" y="289" width="5" height="12" fill="#EEEE00"/>
<rect x="268" y="290" width="5" height="11" fill="#EEEE00"/>
<rect x="275" y="289" width="5" height="12" fill="#EEEE00"/>
<rect x="282" y="297" width="5" height="4" fill="#EEEE00"/>
<rect x="289" y="298" width="5" height="3" fill="#EEEE00"/>
<rect x="296" y="290" width="5" height="11" fill="#00CDCD"/>
<rect x="303" y="268" width="5" height="33" fill="#EE82EE"/>
<rect x="310" y="299" width="5" height="2" fill="#9AC0CD"/>
<rect x="317" y="292" width="5" height="9" fill="#EED5D2"/>
<rect x="324" y="288" width="5" height="13" fill="#EED5D2"/>
<rect x="331" y="298" width="5" height="3" fill="#CDB79E"/>
<rect x="338" y="291" width="5" height="10" fill="#EEC591"/>
<rect x="345" y="298" width="5" height="3" fill="#8B7355"/>
<rect x="352" y="270" width="5" height="31" fill="#8B7355"/>
<rect x="359" y="299" width="5" height="2" fill="#CDAA7D"/>
<rect x="366" y="293" width="5" height="8" fill="#EED5D2"/>
<rect x="373" y="299" width="5" height="2" fill="#B452CD"/>
<rect x="380" y="300" width="5" height="1" fill="#7A378B"/>
<rect x="387" y="285" width="5" height="16" fill="#CDB79E"/>
<rect x="394" y="274" width="5" height="27" fill="#CDB79E"/>
<rect x="401" y="296" width="5" height="5" fill="#CDB79E"/>
<rect x="408" y="288" width="5" height="13" fill="#9ACD32"/>
<rect x="415" y="282" width="5" height="19" fill="#CDB79E"/>
<rect x="422" y="300" width="5" height="1" fill="#7A67EE"/>
<rect x="429" y="294" width="5" height="7" fill="#FFD700"/>
<rect x="436" y="299" width="5" height="2" fill="#FFB6C1"/>
<rect x="443" y="291" width="5" height="10" fill="#CD9B1D"/>
<rect x="450" y="281" width="5" height="20" fill="#B4EEB4"/>
<rect x="457" y="288" width="5" height="13" fill="#D9D9D9"/>
<rect x="464" y="285" width="5" height="16" fill="#3A5FCD"/>
<rect x="471" y="284" width="5" height="17" fill="#1E90FF"/>
<rect x="478" y="290" width="5" height="11" fill="#CDB79E"/>
<rect x="485" y="287" width="5" height="14" fill="#CDB79E"/>
<rect x="492" y="288" width="5" height="13" fill="#FFD39B"/>
<rect x="499" y="283" width="5" height="18" fill="#A6A6A6"/>
<rect x="506" y="284" width="5" height="17" fill="#008B45"/>
<rect x="513" y="298" width="5" height="3" fill="#EED5D2"/>
<rect x="520" y="278" width="5" height="23" fill="#EED5D2"/>
<rect x="527" y="298" width="5" height="3" fill="#FF00FF"/>
<rect x="156" y="302" width="793" height="2" fill="#ff00ff"/>
<rect x="156" y="350" width="793" height="1" fill="#000"/>
<rect x="145" y="365.2" width="7.4" height="0.8" fill="#3c3c8c" fill-opacity="0.85"/>
<rect x="145" y="415.2" width="7.4" height="0.8" fill="#8c3c3c" fill-opacity="0.85"/>
<rect x="173" y="393" width="43" height="1" fill="#0000ff" fill-opacity="0.25"/>
<rect x="174" y="393" width="3" height="1" fill="#0000ff" fill-opacity="0.3"/>
<rect x="176" y="393" width="6" height="1" fill="#0000ff" fill-opacity="0.6"/>
<rect x="200" y="393" width="16" height="1" fill="#0000ff" fill-opacity="0.45"/>
<rect x="209" y="393" width="7" height="1" fill="#0000ff" fill-opacity="0.3"/>
<rect x="253" y="391" width="43" height="1" fill="#0000ff" fill-opacity="0.25"/>
<rect x="254" y="391" width="3" height="1" fill="#0000ff" fill-opacity="0.3"/>
<rect x="256" y="391" width="6" height="1" fill="#0000ff" fill-opacity="0.6"/>
<rect x="280" y="391" width="16" height="1" fill="#0000ff" fill-opacity="0.45"/>
<rect x="289" y="391" width="7" height="1" fill="#0000ff" fill-opacity="0.3"/>
<rect x="337" y="393" width="35" height="1" fill="#0000ff" fill-opacity="0.38"/>
<rect x="338" y="395" width="31" height="1" fill="#0000ff" fill-opacity="0.38"/>
<rect x="332" y="394" width="7" height="1" fill="#0000ff" fill-opacity="0.95"/>
<rect x="334" y="393" width="4" height="1" fill="#0000ff" fill-opacity="0.35"/>
<rect x="333" y="395" width="6" height="1" fill="#0000ff" fill-opacity="0.6"/>
<rect x="369" y="394" width="6" height="1" fill="#0000ff" fill-opacity="0.85"/>
<rect x="368" y="395" width="6" height="1" fill="#0000ff" fill-opacity="0.45"/>
<rect x="355" y="394" width="14" height="1" fill="#0000ff" fill-opacity="0.2"/>
<rect x="332" y="396" width="40" height="2" fill="#a0a000" fill-opacity="0.25"/>
<rect x="332" y="396" width="7" height="2" fill="#a0a000" fill-opacity="0.4"/>
<rect x="364" y="396" width="8" height="2" fill="#a0a000" fill-opacity="0.35"/>
<rect x="331" y="398" width="39" height="1" fill="#ff0000" fill-opacity="0.3"/>
<rect x="338" y="398" width="24" height="1" fill="#ff0000" fill-opacity="0.2"/>
<rect x="416" y="393" width="32" height="1" fill="#a0a000" fill-opacity="0.38"/>
<rect x="417" y="395" width="28" height="1" fill="#a0a000" fill-opacity="0.38"/>
<rect x="411" y="394" width="7" height="1" fill="#a0a000" fill-opacity="0.95"/>
<rect x="413" y="393" width="4" height="1" fill="#a0a000" fill-opacity="0.35"/>
<rect x="412" y="395" width="6" height="1" fill="#a0a000" fill-opacity="0.6"/>
<rect x="445" y="394" width="6" height="1" fill="#a0a000" fill-opacity="0.85"/>
<rect x="444" y="395" width="6" height="1" fill="#a0a000" fill-opacity="0.45"/>
<rect x="431" y="394" width="14" height="1" fill="#a0a000" fill-opacity="0.2"/>
<rect x="409" y="396" width="37" height="1" fill="#00ff00" fill-opacity="0.3"/>
<rect x="425" y="396" width="6" height="2" fill="#00ff00"/>
<rect x="412" y="398" width="42" height="1" fill="#0000ff" fill-opacity="0.3"/>
<rect x="413" y="398" width="8" height="1" fill="#0000ff" fill-opacity="0.45"/>
<rect x="444" y="398" width="9" height="1" fill="#0000ff" fill-opacity="0.45"/>
<rect x="496" y="393" width="32" height="1" fill="#a0a000" fill-opacity="0.38"/>
<rect x="497" y="395" width="28" height="1" fill="#a0a000" fill-opacity="0.38"/>
<rect x="491" y="394" width="7" height="1" fill="#a0a000" fill-opacity="0.95"/>
<rect x="493" y="393" width="4" height="1" fill="#a0a000" fill-opacity="0.35"/>
<rect x="492" y="395" width="6" height="1" fill="#a0a000" fill-opacity="0.6"/>
<rect x="525" y="394" width="6" height="1" fill="#a0a000" fill-opacity="0.85"/>
<rect x="524" y="395" width="6" height="1" fill="#a0a000" fill-opacity="0.45"/>
<rect x="511" y="394" width="14" height="1" fill="#a0a000" fill-opacity="0.2"/>
<path d="M568 400 L584.5 393 L591.5 393 L609 400 L602 400 L588.5 394.6 L587.5 394.6 L575 400 Z" fill="#ff0000"/>
<rect x="580" y="397" width="17" height="1" fill="#ff0000" fill-opacity="0.85"/>
<rect x="575" y="400" width="35" height="1" fill="#0000ff" fill-opacity="0.38"/>
<rect x="576" y="403" width="31" height="1" fill="#0000ff" fill-opacity="0.38"/>
<rect x="570" y="401" width="7" height="2" fill="#0000ff" fill-opacity="0.95"/>
<rect x="572" y="400" width="4" height="1" fill="#0000ff" fill-opacity="0.35"/>
<rect x="571" y="403" width="6" height="1" fill="#0000ff" fill-opacity="0.6"/>
<rect x="607" y="401" width="6" height="2" fill="#0000ff" fill-opacity="0.85"/>
<rect x="606" y="403" width="6" height="1" fill="#0000ff" fill-opacity="0.45"/>
<rect x="593" y="401" width="14" height="2" fill="#0000ff" fill-opacity="0.2"/>
<rect x="568" y="404" width="38" height="1" fill="#00ff00" fill-opacity="0.3"/>
<rect x="584" y="404" width="6" height="3" fill="#00ff00"/>
<rect x="570" y="407" width="40" height="1" fill="#a0a000" fill-opacity="0.25"/>
<rect x="572" y="407" width="7" height="1" fill="#a0a000" fill-opacity="0.45"/>
<rect x="601" y="407" width="8" height="1" fill="#a0a000" fill-opacity="0.4"/>
<rect x="654" y="393" width="35" height="1" fill="#0000ff" fill-opacity="0.38"/>
<rect x="655" y="395" width="31" height="1" fill="#0000ff" fill-opacity="0.38"/>
<rect x="649" y="394" width="7" height="1" fill="#0000ff" fill-opacity="0.95"/>
<rect x="651" y="393" width="4" height="1" fill="#0000ff" fill-opacity="0.35"/>
<rect x="650" y="395" width="6" height="1" fill="#0000ff" fill-opacity="0.6"/>
<rect x="686" y="394" width="6" height="1" fill="#0000ff" fill-opacity="0.85"/>
<rect x="685" y="395" width="6" height="1" fill="#0000ff" fill-opacity="0.45"/>
<rect x="672" y="394" width="14" height="1" fill="#0000ff" fill-opacity="0.2"/>
<rect x="650" y="396" width="39" height="1" fill="#a0a000" fill-opacity="0.3"/>
<rect x="650" y="396" width="8" height="1" fill="#a0a000" fill-opacity="0.3"/>
<rect x="729" y="393" width="38" height="1" fill="#0000ff" fill-opacity="0.25"/>
<rect x="730" y="393" width="7" height="1" fill="#0000ff" fill-opacity="0.5"/>
<rect x="729" y="394" width="6" height="1" fill="#0000ff" fill-opacity="0.2"/>
<rect x="758" y="393" width="9" height="1" fill="#0000ff" fill-opacity="0.35"/>
<rect x="765" y="394" width="7" height="1" fill="#0000ff" fill-opacity="0.9"/>
<rect x="765" y="393" width="4" height="1" fill="#0000ff" fill-opacity="0.4"/>
<path d="M926.5 394.6 C921 393.5 905 393.4 896 393.7 C890 394 888 395 888 395.9 C888 396.9 890 397.9 896 398.1 C905 398.4 920 398.4 926.5 397" fill="none" stroke="#a0a000" stroke-width="1.4"/>
<path d="M887 395.9 L893 394 L894.5 395.9 L893 397.9 Z" fill="#a0a000"/>
<rect x="885" y="399" width="38" height="1" fill="#00ff00" fill-opacity="0.3"/>
<rect x="901" y="399" width="6" height="2" fill="#00ff00"/>
<rect x="886" y="401" width="39" height="1" fill="#ff0000" fill-opacity="0.4"/>
<rect x="890" y="401" width="30" height="1" fill="#ff0000" fill-opacity="0.25"/>
<path d="M191 485h6v1h-6zM191 488h6v1h-6z" fill="#8488b8" fill-opacity="0.85"/>
<path d="M270 485h6v1h-6zM270 488h6v1h-6z" fill="#8488b8" fill-opacity="0.85"/>
<path d="M349 485h6v1h-6zM349 488h6v1h-6z" fill="#8488b8" fill-opacity="0.85"/>
<path d="M428 485h6v1h-6zM428 488h6v1h-6z" fill="#8488b8" fill-opacity="0.85"/>
<path d="M508 485h6v1h-6zM508 488h6v1h-6z" fill="#8488b8" fill-opacity="0.85"/>
<path d="M587 485h6v1h-6zM587 488h6v1h-6z" fill="#8488b8" fill-opacity="0.85"/>
<path d="M666 485h6v1h-6zM666 488h6v1h-6z" fill="#8488b8" fill-opacity="0.85"/>
<path d="M746 485h6v1h-6zM746 488h6v1h-6z" fill="#8488b8" fill-opacity="0.85"/>
<path d="M825 485h6v1h-6zM825 488h6v1h-6z" fill="#8488b8" fill-opacity="0.85"/>
<path d="M904 485h6v1h-6zM904 488h6v1h-6z" fill="#8488b8" fill-opacity="0.85"/>
<path d="M192 501h4v1h-4z" fill="#8488b8" fill-opacity="0.85"/>
<path d="M271 501h4v1h-4z" fill="#8488b8" fill-opacity="0.85"/>
<path d="M350 501h4v1h-4z" fill="#8488b8" fill-opacity="0.85"/>
<path d="M429 501h4v1h-4z" fill="#8488b8" fill-opacity="0.85"/>
<path d="M509 501h4v1h-4z" fill="#8488b8" fill-opacity="0.85"/>
<path d="M588 501h4v1h-4z" fill="#8488b8" fill-opacity="0.85"/>
<path d="M667 501h4v1h-4z" fill="#8488b8" fill-opacity="0.85"/>
<path d="M747 501h4v1h-4z" fill="#8488b8" fill-opacity="0.85"/>
<path d="M826 501h4v1h-4z" fill="#8488b8" fill-opacity="0.85"/>
<path d="M905 501h4v1h-4z" fill="#8488b8" fill-opacity="0.85"/>
<path d="M191 515h6v1h-6zM191 518h6v1h-6z" fill="#8488b8" fill-opacity="0.85"/>
<path d="M270 515h6v1h-6zM270 518h6v1h-6z" fill="#8488b8" fill-opacity="0.85"/>
<path d="M349 515h6v1h-6zM349 518h6v1h-6z" fill="#8488b8" fill-opacity="0.85"/>
<path d="M428 515h6v1h-6zM428 518h6v1h-6z" fill="#8488b8" fill-opacity="0.85"/>
<path d="M508 515h6v1h-6zM508 518h6v1h-6z" fill="#8488b8" fill-opacity="0.85"/>
<path d="M587 515h6v1h-6zM587 518h6v1h-6z" fill="#8488b8" fill-opacity="0.85"/>
<path d="M666 515h6v1h-6zM666 518h6v1h-6z" fill="#8488b8" fill-opacity="0.85"/>
<path d="M746 515h6v1h-6zM746 518h6v1h-6z" fill="#8488b8" fill-opacity="0.85"/>
<path d="M825 515h6v1h-6zM825 518h6v1h-6z" fill="#8488b8" fill-opacity="0.85"/>
<path d="M904 515h6v1h-6zM904 518h6v1h-6z" fill="#8488b8" fill-opacity="0.85"/>
<path d="M271 531h4v1h-4z" fill="#8488b8" fill-opacity="0.85"/>
<path d="M350 531h4v1h-4z" fill="#8488b8" fill-opacity="0.85"/>
<path d="M271 561h4v1h-4z" fill="#8488b8" fill-opacity="0.85"/>
<path d="M588 561h4v1h-4z" fill="#8488b8" fill-opacity="0.85"/>
<path d="M667 561h4v1h-4z" fill="#8488b8" fill-opacity="0.85"/>
<path d="M747 561h4v1h-4z" fill="#8488b8" fill-opacity="0.85"/>
<path d="M826 561h4v1h-4z" fill="#8488b8" fill-opacity="0.85"/>
<path d="M905 561h4v1h-4z" fill="#8488b8" fill-opacity="0.85"/>
<text x="56.64" y="13.00" font-size="14" fill="#000" textLength="96.10" lengthAdjust="spacingAndGlyphs">Window Position</text>
<text x="352.94" y="12.00" font-size="14" fill="#000" textLength="399.36" lengthAdjust="spacingAndGlyphs">Human Feb. 2009 (GRCh37/hg19)   chr1:1,000,202-1,000,211 (10 bp)</text>
<text x="118.99" y="30.00" font-size="14" fill="#000" textLength="33.50" lengthAdjust="spacingAndGlyphs">Scale</text>
<text x="304.98" y="29.00" font-size="14" fill="#000" textLength="45.28" lengthAdjust="spacingAndGlyphs">5 bases</text>
<text x="760.02" y="29.00" font-size="14" fill="#000" textLength="28.28" lengthAdjust="spacingAndGlyphs">hg19</text>
<text x="122.72" y="47.00" font-size="14" fill="#000" textLength="30.11" lengthAdjust="spacingAndGlyphs">chr1:</text>
<text x="131.75" y="63.00" font-size="14" fill="#000" textLength="12.40" lengthAdjust="spacingAndGlyphs">---</text>
<text x="188.81" y="61.00" font-size="14" fill="#000" textLength="10.72" lengthAdjust="spacingAndGlyphs">G</text>
<text x="176.43" y="47.00" font-size="13" fill="#000" textLength="56.82" lengthAdjust="spacingAndGlyphs">1,000,202</text>
<text x="267.81" y="61.00" font-size="14" fill="#000" textLength="10.72" lengthAdjust="spacingAndGlyphs">G</text>
<text x="255.43" y="47.00" font-size="13" fill="#000" textLength="56.73" lengthAdjust="spacingAndGlyphs">1,000,203</text>
<text x="347.37" y="61.00" font-size="14" fill="#000" textLength="9.69" lengthAdjust="spacingAndGlyphs">C</text>
<text x="334.43" y="47.00" font-size="13" fill="#000" textLength="56.54" lengthAdjust="spacingAndGlyphs">1,000,204</text>
<text x="426.37" y="61.00" font-size="14" fill="#000" textLength="9.69" lengthAdjust="spacingAndGlyphs">C</text>
<text x="414.43" y="47.00" font-size="13" fill="#000" textLength="56.71" lengthAdjust="spacingAndGlyphs">1,000,205</text>
<text x="506.37" y="61.00" font-size="14" fill="#000" textLength="9.69" lengthAdjust="spacingAndGlyphs">C</text>
<text x="493.43" y="47.00" font-size="13" fill="#000" textLength="56.73" lengthAdjust="spacingAndGlyphs">1,000,206</text>
<text x="584.81" y="61.00" font-size="14" fill="#000" textLength="10.72" lengthAdjust="spacingAndGlyphs">G</text>
<text x="572.43" y="47.00" font-size="13" fill="#000" textLength="56.82" lengthAdjust="spacingAndGlyphs">1,000,207</text>
<text x="663.81" y="61.00" font-size="14" fill="#000" textLength="10.72" lengthAdjust="spacingAndGlyphs">G</text>
<text x="652.43" y="47.00" font-size="13" fill="#000" textLength="56.73" lengthAdjust="spacingAndGlyphs">1,000,208</text>
<text x="743.81" y="61.00" font-size="14" fill="#000" textLength="10.72" lengthAdjust="spacingAndGlyphs">G</text>
<text x="731.43" y="47.00" font-size="13" fill="#000" textLength="56.78" lengthAdjust="spacingAndGlyphs">1,000,209</text>
<text x="822.81" y="61.00" font-size="14" fill="#000" textLength="10.72" lengthAdjust="spacingAndGlyphs">G</text>
<text x="810.43" y="47.00" font-size="13" fill="#000" textLength="56.67" lengthAdjust="spacingAndGlyphs">1,000,210</text>
<text x="902.37" y="61.00" font-size="14" fill="#000" textLength="9.69" lengthAdjust="spacingAndGlyphs">C</text>
<text x="429.04" y="78.00" font-size="14" fill="#000" textLength="247.47" lengthAdjust="spacingAndGlyphs">GENCODE V49lift37 (54 items filtered out)</text>
<text x="38.05" y="92.00" font-size="14" fill="#006400" textLength="114.12" lengthAdjust="spacingAndGlyphs">ENSG00000291156</text>
<text x="38.05" y="108.00" font-size="14" fill="#006400" textLength="114.12" lengthAdjust="spacingAndGlyphs">ENSG00000291156</text>
<text x="490.90" y="124.00" font-size="11.5" fill="#000" textLength="123.20" lengthAdjust="spacingAndGlyphs">RefSeq genes from NCBI</text>
<text x="59.84" y="139.00" font-size="14" fill="#0c0c78" textLength="92.59" lengthAdjust="spacingAndGlyphs">RefSeq Curated</text>
<text x="445.01" y="155.00" font-size="11.5" fill="#000" textLength="214.38" lengthAdjust="spacingAndGlyphs">Publications: Sequences in Scientific Articles</text>
<text x="87.01" y="170.00" font-size="14" fill="#000" textLength="64.55" lengthAdjust="spacingAndGlyphs">Sequences</text>
<text x="118.11" y="186.00" font-size="14" fill="#000" textLength="33.05" lengthAdjust="spacingAndGlyphs">SNPs</text>
<text x="367.78" y="203.00" font-size="14" fill="#005000" textLength="369.56" lengthAdjust="spacingAndGlyphs">OMIM Gene Phenotypes - Dark Green Can Be Disease-causing</text>
<text x="73.78" y="217.00" font-size="14" fill="#005000" textLength="77.39" lengthAdjust="spacingAndGlyphs">OMIM Genes</text>
<text x="436.00" y="233.00" font-size="11.5" fill="#000" textLength="232.26" lengthAdjust="spacingAndGlyphs">Short Genetic Variants from dbSNP release 155</text>
<text x="25.95" y="248.00" font-size="14" fill="#000" textLength="126.45" lengthAdjust="spacingAndGlyphs">Common dbSNP(155)</text>
<text x="265.64" y="265.00" font-size="14" fill="#000" textLength="572.87" lengthAdjust="spacingAndGlyphs">Gene Expression in 54 tissues from GTEx RNA-seq of 17382 samples, 948 donors (V8, Aug 2019)</text>
<text x="60.73" y="292.00" font-size="14" fill="#000" textLength="91.44" lengthAdjust="spacingAndGlyphs">RP11-465B22.3</text>
<text x="280.63" y="319.00" font-size="14" fill="#000" textLength="541.84" lengthAdjust="spacingAndGlyphs">H3K27Ac Mark (Often Found Near Active Regulatory Elements) on 7 cell lines from ENCODE</text>
<text x="12.44" y="333.00" font-size="14" fill="#000" textLength="104.90" lengthAdjust="spacingAndGlyphs">Layered H3K27Ac</text>
<text x="405.71" y="365.00" font-size="14" fill="#3c3c8c" textLength="292.98" lengthAdjust="spacingAndGlyphs">100 vertebrates Basewise Conservation by PhyloP</text>
<text x="115.91" y="364.00" font-size="13" fill="#3c3c8c" textLength="24.95" lengthAdjust="spacingAndGlyphs">4.88</text>
<text x="13.31" y="389.00" font-size="14" fill="#3c3c8c" textLength="86.16" lengthAdjust="spacingAndGlyphs">100 Vert. Cons</text>
<text x="118.94" y="414.00" font-size="13" fill="#8c3c3c" textLength="21.79" lengthAdjust="spacingAndGlyphs">-4.5</text>
<text x="444.72" y="431.00" font-size="14" fill="#000a64" textLength="214.66" lengthAdjust="spacingAndGlyphs">Multiz Alignments of 100 Vertebrates</text>
<text x="120.86" y="445.00" font-size="14" fill="#e18214" textLength="30.61" lengthAdjust="spacingAndGlyphs">Gaps</text>
<text x="110.53" y="460.00" font-size="14" fill="#000a64" textLength="42.23" lengthAdjust="spacingAndGlyphs">Human</text>
<text x="188.81" y="460.00" font-size="14" fill="#000a64" textLength="10.72" lengthAdjust="spacingAndGlyphs">G</text>
<text x="267.81" y="460.00" font-size="14" fill="#000a64" textLength="10.72" lengthAdjust="spacingAndGlyphs">G</text>
<text x="347.37" y="460.00" font-size="14" fill="#000a64" textLength="9.69" lengthAdjust="spacingAndGlyphs">C</text>
<text x="426.37" y="460.00" font-size="14" fill="#000a64" textLength="9.69" lengthAdjust="spacingAndGlyphs">C</text>
<text x="506.37" y="460.00" font-size="14" fill="#000a64" textLength="9.69" lengthAdjust="spacingAndGlyphs">C</text>
<text x="584.81" y="460.00" font-size="14" fill="#000a64" textLength="10.72" lengthAdjust="spacingAndGlyphs">G</text>
<text x="663.81" y="460.00" font-size="14" fill="#000a64" textLength="10.72" lengthAdjust="spacingAndGlyphs">G</text>
<text x="743.81" y="460.00" font-size="14" fill="#000a64" textLength="10.72" lengthAdjust="spacingAndGlyphs">G</text>
<text x="822.81" y="460.00" font-size="14" fill="#000a64" textLength="10.72" lengthAdjust="spacingAndGlyphs">G</text>
<text x="902.37" y="460.00" font-size="14" fill="#000a64" textLength="9.69" lengthAdjust="spacingAndGlyphs">C</text>
<text x="108.05" y="475.00" font-size="14" fill="#000a64" textLength="43.41" lengthAdjust="spacingAndGlyphs">Rhesus</text>
<text x="188.81" y="475.00" font-size="14" fill="#000a64" textLength="10.72" lengthAdjust="spacingAndGlyphs">G</text>
<text x="267.81" y="475.00" font-size="14" fill="#000a64" textLength="10.72" lengthAdjust="spacingAndGlyphs">G</text>
<text x="347.37" y="475.00" font-size="14" fill="#000a64" textLength="9.69" lengthAdjust="spacingAndGlyphs">C</text>
<text x="426.37" y="475.00" font-size="14" fill="#000a64" textLength="9.69" lengthAdjust="spacingAndGlyphs">C</text>
<text x="506.37" y="475.00" font-size="14" fill="#000a64" textLength="9.69" lengthAdjust="spacingAndGlyphs">C</text>
<text x="585.72" y="475.00" font-size="14" fill="#8488b8" textLength="8.55" lengthAdjust="spacingAndGlyphs">A</text>
<text x="663.81" y="475.00" font-size="14" fill="#000a64" textLength="10.72" lengthAdjust="spacingAndGlyphs">G</text>
<text x="743.81" y="475.00" font-size="14" fill="#000a64" textLength="10.72" lengthAdjust="spacingAndGlyphs">G</text>
<text x="822.81" y="475.00" font-size="14" fill="#000a64" textLength="10.72" lengthAdjust="spacingAndGlyphs">G</text>
<text x="902.37" y="475.00" font-size="14" fill="#000a64" textLength="9.69" lengthAdjust="spacingAndGlyphs">C</text>
<text x="112.52" y="490.00" font-size="14" fill="#005a0a" textLength="39.57" lengthAdjust="spacingAndGlyphs">Mouse</text>
<text x="128.54" y="505.00" font-size="14" fill="#000a64" textLength="23.80" lengthAdjust="spacingAndGlyphs">Dog</text>
<text x="100.85" y="520.00" font-size="14" fill="#005a0a" textLength="50.75" lengthAdjust="spacingAndGlyphs">Elephant</text>
<text x="104.93" y="535.00" font-size="14" fill="#005a0a" textLength="47.83" lengthAdjust="spacingAndGlyphs">Chicken</text>
<text x="188.81" y="535.00" font-size="14" fill="#000a64" textLength="10.72" lengthAdjust="spacingAndGlyphs">G</text>
<text x="425.81" y="535.00" font-size="14" fill="#8488b8" textLength="10.72" lengthAdjust="spacingAndGlyphs">G</text>
<text x="506.37" y="535.00" font-size="14" fill="#000a64" textLength="9.69" lengthAdjust="spacingAndGlyphs">C</text>
<text x="585.84" y="535.00" font-size="14" fill="#8488b8" textLength="8.32" lengthAdjust="spacingAndGlyphs">T</text>
<text x="664.37" y="535.00" font-size="14" fill="#8488b8" textLength="9.69" lengthAdjust="spacingAndGlyphs">C</text>
<text x="744.84" y="535.00" font-size="14" fill="#8488b8" textLength="8.32" lengthAdjust="spacingAndGlyphs">T</text>
<text x="822.81" y="535.00" font-size="14" fill="#000a64" textLength="10.72" lengthAdjust="spacingAndGlyphs">G</text>
<text x="902.84" y="535.00" font-size="14" fill="#8488b8" textLength="8.32" lengthAdjust="spacingAndGlyphs">T</text>
<text x="83.91" y="550.00" font-size="14" fill="#000a64" textLength="67.57" lengthAdjust="spacingAndGlyphs">X_tropicalis</text>
<text x="188.81" y="550.00" font-size="14" fill="#000a64" textLength="10.72" lengthAdjust="spacingAndGlyphs">G</text>
<text x="267.81" y="550.00" font-size="14" fill="#000a64" textLength="10.72" lengthAdjust="spacingAndGlyphs">G</text>
<text x="347.72" y="550.00" font-size="14" fill="#8488b8" textLength="8.55" lengthAdjust="spacingAndGlyphs">A</text>
<text x="426.84" y="550.00" font-size="14" fill="#8488b8" textLength="8.32" lengthAdjust="spacingAndGlyphs">T</text>
<text x="506.37" y="550.00" font-size="14" fill="#000a64" textLength="9.69" lengthAdjust="spacingAndGlyphs">C</text>
<text x="585.84" y="550.00" font-size="14" fill="#8488b8" textLength="8.32" lengthAdjust="spacingAndGlyphs">T</text>
<text x="664.72" y="550.00" font-size="14" fill="#8488b8" textLength="8.55" lengthAdjust="spacingAndGlyphs">A</text>
<text x="743.81" y="550.00" font-size="14" fill="#000a64" textLength="10.72" lengthAdjust="spacingAndGlyphs">G</text>
<text x="822.81" y="550.00" font-size="14" fill="#000a64" textLength="10.72" lengthAdjust="spacingAndGlyphs">G</text>
<text x="902.72" y="550.00" font-size="14" fill="#8488b8" textLength="8.55" lengthAdjust="spacingAndGlyphs">A</text>
<text x="97.58" y="565.00" font-size="14" fill="#005a0a" textLength="55.18" lengthAdjust="spacingAndGlyphs">Zebrafish</text>
<text x="189.84" y="565.00" font-size="14" fill="#8488b8" textLength="8.32" lengthAdjust="spacingAndGlyphs">T</text>
<text x="346.81" y="565.00" font-size="14" fill="#8488b8" textLength="10.72" lengthAdjust="spacingAndGlyphs">G</text>
<text x="426.37" y="565.00" font-size="14" fill="#000a64" textLength="9.69" lengthAdjust="spacingAndGlyphs">C</text>
<text x="506.84" y="565.00" font-size="14" fill="#8488b8" textLength="8.32" lengthAdjust="spacingAndGlyphs">T</text>
<text x="441.03" y="581.00" font-size="14" fill="#000" textLength="222.78" lengthAdjust="spacingAndGlyphs">Repeating Elements by RepeatMasker</text>
<text x="67.63" y="595.00" font-size="14" fill="#000" textLength="84.48" lengthAdjust="spacingAndGlyphs">RepeatMasker</text>
</svg>
</body></html>
